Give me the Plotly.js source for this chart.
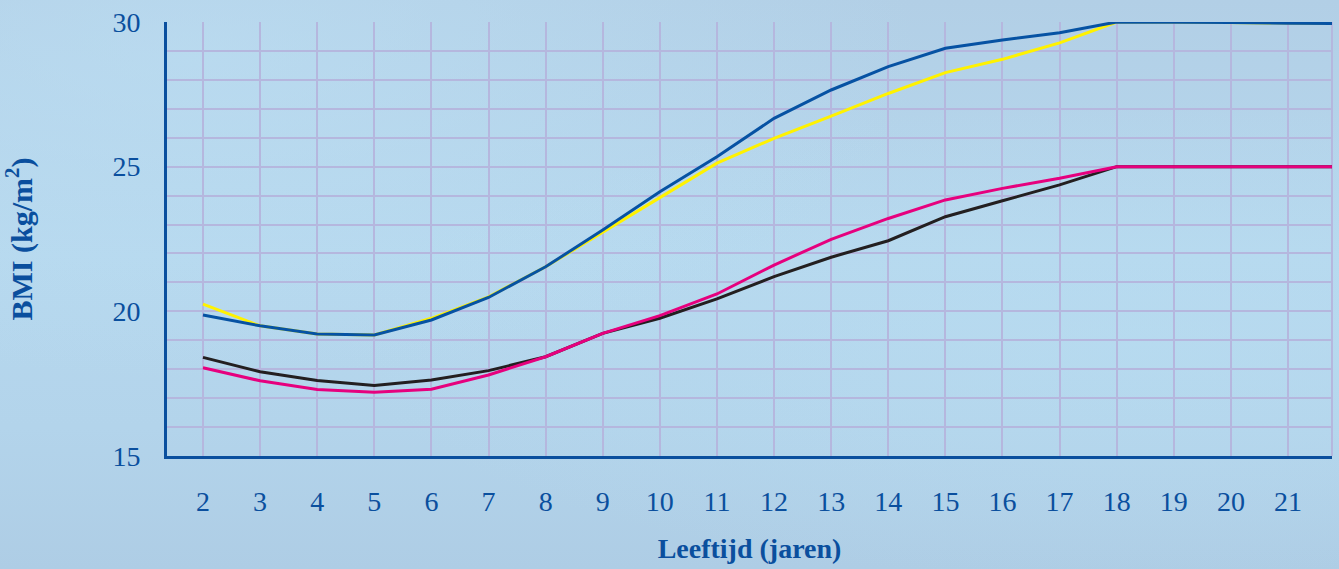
<!DOCTYPE html>
<html>
<head>
<meta charset="utf-8">
<script src="https://cdn.plot.ly/plotly-3.0.1.min.js"></script>
<style>
html, body { margin: 0; padding: 0; width: 1339px; height: 569px; overflow: hidden; }
body {
  background:
    radial-gradient(ellipse at 15% 10%, rgba(190,225,245,0.55), rgba(190,225,245,0) 45%),
    radial-gradient(ellipse at 85% 60%, rgba(185,222,242,0.5), rgba(185,222,242,0) 50%),
    linear-gradient(180deg, #b2cfe6 0%, #b6d8ee 45%, #b3d4eb 75%, #aecde5 100%);
}
#chart { width: 1339px; height: 569px; }
</style>
</head>
<body>
<div id="chart"></div>
<script>
// Ages (years); last point is the right edge of the chart
const ages = [2, 3, 4, 5, 6, 7, 8, 9, 10, 11, 12, 13, 14, 15, 16, 17, 18, 19, 20, 21, 21.8];

const yellowBMI = [20.25, 19.50, 19.22, 19.18, 19.76, 20.50, 21.54, 22.72, 23.93, 25.12, 25.98, 26.75, 27.53, 28.25, 28.71, 29.28, 30.00, 30.00, 29.98, 29.96, 29.95];
const blueBMI   = [19.87, 19.50, 19.22, 19.18, 19.70, 20.48, 21.54, 22.81, 24.13, 25.34, 26.67, 27.65, 28.46, 29.09, 29.38, 29.63, 30.00, 30.00, 29.98, 29.96, 29.95];
const blackBMI  = [18.41, 17.91, 17.61, 17.44, 17.63, 17.95, 18.43, 19.24, 19.76, 20.43, 21.20, 21.87, 22.44, 23.27, 23.82, 24.37, 25.00, 25.00, 25.00, 25.00, 25.00];
const pinkBMI   = [18.05, 17.60, 17.30, 17.20, 17.31, 17.80, 18.43, 19.24, 19.85, 20.60, 21.60, 22.49, 23.21, 23.85, 24.25, 24.60, 25.00, 25.00, 25.00, 25.00, 25.00];

const xTickVals = [2, 3, 4, 5, 6, 7, 8, 9, 10, 11, 12, 13, 14, 15, 16, 17, 18, 19, 20, 21];
const yTickVals = [15, 20, 25, 30];

const xTitle = 'Leeftijd (jaren)';
const yTitle = 'BMI (kg/m<sup>2</sup>)';

const navy = '#0a4f9e';
const grid = '#b5b7de';
const font = '"Liberation Serif", "DejaVu Serif", serif';

function line(y, color) {
  return { x: ages, y: y, type: 'scatter', mode: 'lines', line: { color: color, width: 3 }, hoverinfo: 'skip' };
}

const data = [
  line(yellowBMI, '#fff200'),
  line(blueBMI, '#0652a3'),
  line(blackBMI, '#231f20'),
  line(pinkBMI, '#e6007e')
];

const layout = {
  width: 1339, height: 569,
  margin: { l: 167, r: 7, t: 22, b: 113 },
  paper_bgcolor: 'rgba(0,0,0,0)',
  plot_bgcolor: 'rgba(0,0,0,0)',
  showlegend: false,
  font: { family: font, color: navy },
  xaxis: {
    range: [1.37, 21.77],
    tickmode: 'array', tickvals: xTickVals,
    showgrid: true, gridcolor: grid, gridwidth: 2,
    zeroline: false,
    showline: true, linecolor: navy, linewidth: 3,
    ticks: '', ticklabelstandoff: 18,
    tickfont: { family: font, size: 28, color: navy },
    title: { text: xTitle, font: { family: font, size: 28, color: navy, weight: 'bold' }, standoff: 23 }
  },
  yaxis: {
    range: [15, 30],
    tickmode: 'array', tickvals: yTickVals,
    showgrid: true, gridcolor: grid, gridwidth: 2,
    minor: { dtick: 1, showgrid: true, gridcolor: grid, gridwidth: 2 },
    zeroline: false,
    showline: true, linecolor: navy, linewidth: 3,
    ticks: '', ticklabelstandoff: 18,
    tickfont: { family: font, size: 28, color: navy },
    title: { text: yTitle, font: { family: font, size: 30, color: navy, weight: 'bold' }, standoff: 72 }
  },
  shapes: [
    { type: 'line', xref: 'paper', yref: 'paper', x0: 1, x1: 1, y0: 0, y1: 1, line: { color: grid, width: 2 }, layer: 'below' }
  ]
};

Plotly.newPlot('chart', data, layout, { displayModeBar: false, staticPlot: true });
</script>
</body>
</html>
